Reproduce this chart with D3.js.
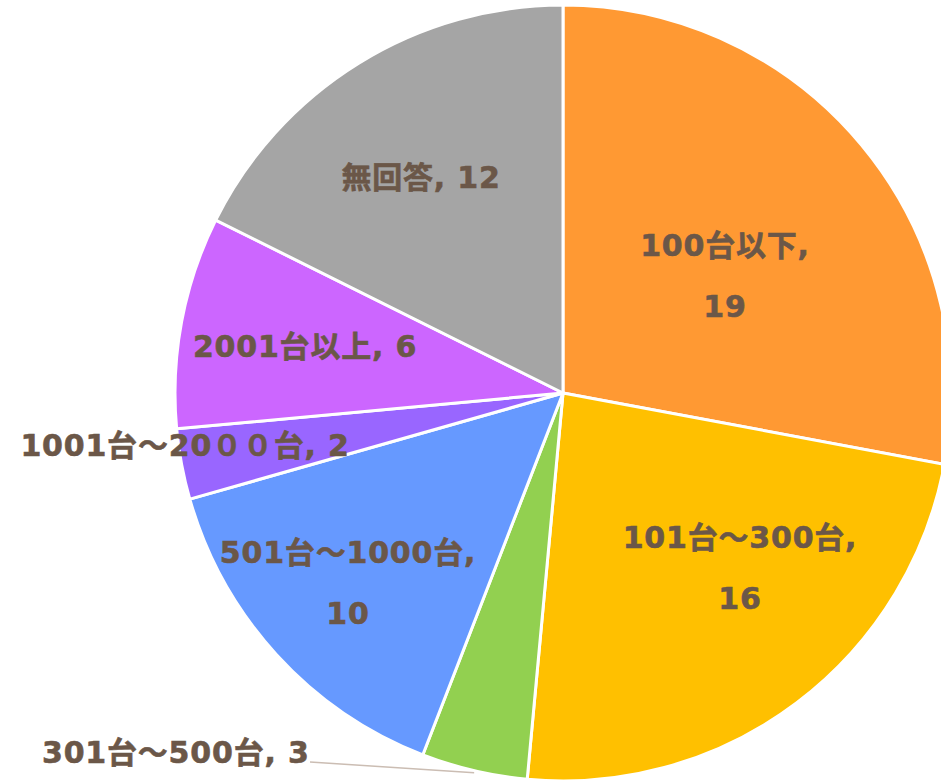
<!DOCTYPE html>
<html>
<head>
<meta charset="utf-8">
<script src="https://cdn.jsdelivr.net/npm/d3@7"></script>
<style>
  html, body { margin: 0; padding: 0; background: #ffffff; overflow: hidden; }
  svg { display: block; }
  .lbl { font-family: "DejaVu Sans", "Noto Sans CJK JP", sans-serif; font-weight: bold; fill: #6b5748; stroke: #6b5748; stroke-width: 0.6; letter-spacing: 0.8px; }
</style>
</head>
<body>
<div id="chart"></div>
<script>
// chart data
const categories = ["100台以下", "101台～300台", "301台～500台", "501台～1000台", "1001台～20００台", "2001台以上", "無回答"];
const counts = [19, 16, 3, 10, 2, 6, 12];
const colors = ["#ff9933", "#ffc000", "#92d050", "#6699ff", "#9966ff", "#cc66ff", "#a5a5a5"];

// label layout (first line centre, relative to pie centre)
const labelLayout = [
  { dx: 162, dy: -148, lines: 2 },
  { dx: 177, dy: 144, lines: 2 },
  { dx: -521, dy: 359, lines: 1, anchor: "start", leader: true },
  { dx: -215, dy: 159, lines: 2 },
  { dx: -378, dy: 52, lines: 1 },
  { dx: -258, dy: -47, lines: 1 },
  { dx: -142, dy: -216, lines: 1 }
];

const width = 941, height = 781;
const cx = 563, cy = 393, radius = 388;

const svg = d3.select("#chart").append("svg")
  .attr("width", width)
  .attr("height", height);

const g = svg.append("g").attr("transform", `translate(${cx},${cy})`);

const pie = d3.pie().sort(null).value(d => d.value);
const arc = d3.arc().innerRadius(0).outerRadius(radius);

const data = categories.map((c, i) => ({ name: c, value: counts[i], color: colors[i] }));
const arcs = pie(data);

g.selectAll("path.slice")
  .data(arcs)
  .enter().append("path")
  .attr("class", "slice")
  .attr("d", arc)
  .attr("fill", d => d.data.color)
  .attr("stroke", "#ffffff")
  .attr("stroke-width", 3)
  .attr("stroke-linejoin", "round");

// leader line for the small slice
arcs.forEach((a, i) => {
  const L = labelLayout[i];
  if (!L.leader) return;
  const mid = (a.startAngle + a.endAngle) / 2;
  const px = Math.sin(mid) * radius, py = -Math.cos(mid) * radius;
  g.append("line")
    .attr("x1", L.dx + 268).attr("y1", L.dy + 10)
    .attr("x2", px).attr("y2", py + 2)
    .attr("stroke", "#cbbdb3")
    .attr("stroke-width", 1.5);
});

// labels
arcs.forEach((a, i) => {
  const L = labelLayout[i];
  const t = g.append("text")
    .attr("class", "lbl")
    .attr("font-size", 30)
    .attr("text-anchor", L.anchor || "middle")
    .attr("x", L.dx)
    .attr("y", L.dy);
  if (L.lines === 2) {
    t.append("tspan").attr("x", L.dx).attr("dy", "0.36em").text(a.data.name + ",");
    t.append("tspan").attr("x", L.dx).attr("dy", 61).text(a.data.value);
  } else {
    t.attr("dy", "0.36em").text(a.data.name + ", " + a.data.value);
  }
});
</script>
</body>
</html>
